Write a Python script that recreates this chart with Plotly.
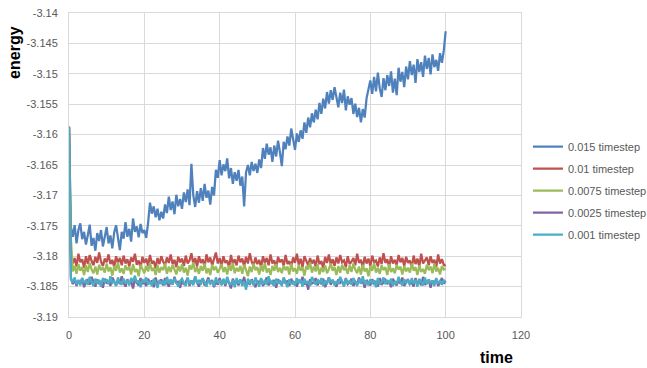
import plotly.graph_objects as go

# time grid: samples every 0.5 time units from 0 to 100
time = [i * 0.5 for i in range(201)]

series_names = ["0.015 timestep", "0.01 timestep", "0.0075 timestep", "0.0025 timestep", "0.001 timestep"]
series_colors = ["#4F81BD", "#C0504D", "#9BBB59", "#8064A2", "#4BACC6"]

energy_0015 = [
    -3.1587, -3.1752, -3.1768, -3.1749, -3.1779, -3.1757, -3.1746, -3.1772, -3.1760, -3.1781,
    -3.1765, -3.1748, -3.1783, -3.1770, -3.1791, -3.1762, -3.1775, -3.1757, -3.1784, -3.1769,
    -3.1752, -3.1779, -3.1766, -3.1787, -3.1761, -3.1749, -3.1774, -3.1790, -3.1760, -3.1771,
    -3.1744, -3.1768, -3.1755, -3.1776, -3.1738, -3.1760, -3.1751, -3.1769, -3.1747, -3.1762,
    -3.1757, -3.1770, -3.1745, -3.1712, -3.1730, -3.1718, -3.1736, -3.1722, -3.1741, -3.1727,
    -3.1738, -3.1715, -3.1729, -3.1702, -3.1724, -3.1710, -3.1731, -3.1699, -3.1718, -3.1706,
    -3.1722, -3.1695, -3.1711, -3.1690, -3.1716, -3.1648, -3.1700, -3.1719, -3.1693, -3.1712,
    -3.1688, -3.1709, -3.1681, -3.1704, -3.1692, -3.1715, -3.1686, -3.1700, -3.1658, -3.1671,
    -3.1642, -3.1667, -3.1649, -3.1660, -3.1639, -3.1672, -3.1655, -3.1681, -3.1662, -3.1676,
    -3.1658, -3.1684, -3.1669, -3.1718, -3.1662, -3.1650, -3.1667, -3.1645, -3.1660, -3.1648,
    -3.1663, -3.1641, -3.1655, -3.1622, -3.1640, -3.1615, -3.1633, -3.1621, -3.1645, -3.1618,
    -3.1636, -3.1610, -3.1629, -3.1652, -3.1612, -3.1624, -3.1603, -3.1618, -3.1590, -3.1610,
    -3.1625, -3.1598, -3.1612, -3.1593, -3.1607, -3.1580, -3.1597, -3.1572, -3.1588, -3.1565,
    -3.1580, -3.1559, -3.1575, -3.1548, -3.1566, -3.1541, -3.1557, -3.1530, -3.1549, -3.1527,
    -3.1543, -3.1522, -3.1538, -3.1555, -3.1531, -3.1548, -3.1526, -3.1560, -3.1537, -3.1551,
    -3.1540, -3.1566, -3.1549, -3.1571, -3.1556, -3.1580, -3.1558, -3.1572, -3.1540, -3.1522,
    -3.1511, -3.1533, -3.1505, -3.1529, -3.1498, -3.1524, -3.1538, -3.1507, -3.1527, -3.1502,
    -3.1520, -3.1496, -3.1531, -3.1508, -3.1535, -3.1490, -3.1513, -3.1497, -3.1522, -3.1488,
    -3.1509, -3.1479, -3.1502, -3.1485, -3.1515, -3.1476, -3.1497, -3.1481, -3.1505, -3.1470,
    -3.1492, -3.1474, -3.1501, -3.1468, -3.1489, -3.1477, -3.1495, -3.1466, -3.1482, -3.1462,
    -3.1430,
]

energy_001 = [
    -3.1587, -3.1798, -3.1812, -3.1803, -3.1817, -3.1796, -3.1810, -3.1805, -3.1819, -3.1800,
    -3.1813, -3.1798, -3.1808, -3.1815, -3.1801, -3.1811, -3.1794, -3.1809, -3.1816, -3.1804,
    -3.1810, -3.1797, -3.1813, -3.1806, -3.1818, -3.1800, -3.1811, -3.1803, -3.1815, -3.1799,
    -3.1812, -3.1805, -3.1817, -3.1802, -3.1809, -3.1796, -3.1814, -3.1807, -3.1819, -3.1801,
    -3.1811, -3.1804, -3.1816, -3.1798, -3.1812, -3.1808, -3.1820, -3.1803, -3.1813, -3.1800,
    -3.1809, -3.1815, -3.1802, -3.1811, -3.1797, -3.1813, -3.1806, -3.1818, -3.1801, -3.1810,
    -3.1804, -3.1816, -3.1799, -3.1812, -3.1807, -3.1795, -3.1813, -3.1803, -3.1817, -3.1800,
    -3.1811, -3.1805, -3.1818, -3.1797, -3.1810, -3.1802, -3.1815, -3.1806, -3.1794, -3.1812,
    -3.1803, -3.1816, -3.1800, -3.1811, -3.1807, -3.1819, -3.1798, -3.1813, -3.1805, -3.1815,
    -3.1799, -3.1810, -3.1804, -3.1817, -3.1801, -3.1812, -3.1795, -3.1809, -3.1816, -3.1802,
    -3.1813, -3.1806, -3.1818, -3.1800, -3.1811, -3.1803, -3.1815, -3.1797, -3.1812, -3.1807,
    -3.1819, -3.1801, -3.1810, -3.1805, -3.1816, -3.1798, -3.1813, -3.1808, -3.1817, -3.1802,
    -3.1811, -3.1796, -3.1814, -3.1804, -3.1818, -3.1800, -3.1809, -3.1815, -3.1803, -3.1812,
    -3.1806, -3.1817, -3.1799, -3.1813, -3.1808, -3.1820, -3.1801, -3.1811, -3.1797, -3.1814,
    -3.1805, -3.1816, -3.1802, -3.1812, -3.1798, -3.1810, -3.1807, -3.1818, -3.1800, -3.1813,
    -3.1809, -3.1803, -3.1815, -3.1796, -3.1811, -3.1806, -3.1819, -3.1801, -3.1812, -3.1804,
    -3.1816, -3.1799, -3.1810, -3.1807, -3.1817, -3.1802, -3.1813, -3.1795, -3.1811, -3.1805,
    -3.1818, -3.1800, -3.1812, -3.1806, -3.1815, -3.1798, -3.1810, -3.1803, -3.1816, -3.1801,
    -3.1811, -3.1807, -3.1819, -3.1799, -3.1813, -3.1804, -3.1817, -3.1796, -3.1812, -3.1808,
    -3.1802, -3.1815, -3.1800, -3.1811, -3.1806, -3.1818, -3.1797, -3.1812, -3.1805, -3.1814,
    -3.1816,
]

energy_00075 = [
    -3.1587, -3.1770, -3.1825, -3.1816, -3.1829, -3.1813, -3.1824, -3.1818, -3.1831, -3.1815,
    -3.1826, -3.1811, -3.1822, -3.1828, -3.1817, -3.1830, -3.1814, -3.1823, -3.1819, -3.1827,
    -3.1812, -3.1825, -3.1818, -3.1832, -3.1816, -3.1824, -3.1810, -3.1827, -3.1820, -3.1829,
    -3.1815, -3.1823, -3.1817, -3.1830, -3.1813, -3.1826, -3.1821, -3.1833, -3.1814, -3.1822,
    -3.1828, -3.1816, -3.1825, -3.1811, -3.1824, -3.1819, -3.1831, -3.1815, -3.1827, -3.1818,
    -3.1823, -3.1812, -3.1829, -3.1817, -3.1826, -3.1814, -3.1821, -3.1830, -3.1816, -3.1825,
    -3.1813, -3.1827, -3.1819, -3.1832, -3.1815, -3.1822, -3.1810, -3.1826, -3.1818, -3.1829,
    -3.1816, -3.1824, -3.1812, -3.1828, -3.1820, -3.1831, -3.1814, -3.1823, -3.1817, -3.1827,
    -3.1821, -3.1813, -3.1826, -3.1818, -3.1830, -3.1815, -3.1824, -3.1811, -3.1828, -3.1819,
    -3.1825, -3.1816, -3.1829, -3.1814, -3.1822, -3.1833, -3.1817, -3.1826, -3.1812, -3.1823,
    -3.1818, -3.1830, -3.1815, -3.1825, -3.1811, -3.1827, -3.1820, -3.1831, -3.1816, -3.1824,
    -3.1813, -3.1826, -3.1819, -3.1828, -3.1815, -3.1823, -3.1817, -3.1830, -3.1812, -3.1825,
    -3.1820, -3.1829, -3.1814, -3.1824, -3.1818, -3.1832, -3.1816, -3.1822, -3.1810, -3.1827,
    -3.1817, -3.1825, -3.1813, -3.1830, -3.1819, -3.1826, -3.1815, -3.1828, -3.1821, -3.1812,
    -3.1824, -3.1818, -3.1831, -3.1816, -3.1827, -3.1814, -3.1823, -3.1819, -3.1829, -3.1815,
    -3.1826, -3.1812, -3.1822, -3.1828, -3.1817, -3.1830, -3.1814, -3.1825, -3.1820, -3.1833,
    -3.1816, -3.1824, -3.1811, -3.1827, -3.1819, -3.1829, -3.1815, -3.1823, -3.1818, -3.1831,
    -3.1813, -3.1826, -3.1820, -3.1828, -3.1814, -3.1822, -3.1817, -3.1830, -3.1816, -3.1825,
    -3.1819, -3.1827, -3.1812, -3.1824, -3.1818, -3.1831, -3.1815, -3.1826, -3.1821, -3.1829,
    -3.1814, -3.1823, -3.1817, -3.1828, -3.1812, -3.1825, -3.1819, -3.1830, -3.1816, -3.1822,
    -3.1820,
]

energy_00025 = [
    -3.1587, -3.1835, -3.1846, -3.1838, -3.1849, -3.1840, -3.1845, -3.1836, -3.1851, -3.1842,
    -3.1839, -3.1847, -3.1834, -3.1844, -3.1850, -3.1838, -3.1846, -3.1841, -3.1852, -3.1837,
    -3.1845, -3.1840, -3.1849, -3.1835, -3.1843, -3.1848, -3.1839, -3.1846, -3.1833, -3.1844,
    -3.1850, -3.1838, -3.1845, -3.1841, -3.1853, -3.1837, -3.1844, -3.1848, -3.1836, -3.1846,
    -3.1842, -3.1849, -3.1837, -3.1845, -3.1840, -3.1851, -3.1835, -3.1847, -3.1843, -3.1838,
    -3.1848, -3.1836, -3.1844, -3.1850, -3.1839, -3.1846, -3.1834, -3.1845, -3.1841, -3.1852,
    -3.1838, -3.1847, -3.1842, -3.1836, -3.1849, -3.1840, -3.1846, -3.1833, -3.1844, -3.1850,
    -3.1841, -3.1837, -3.1848, -3.1843, -3.1835, -3.1846, -3.1839, -3.1851, -3.1842, -3.1847,
    -3.1836, -3.1845, -3.1840, -3.1849, -3.1838, -3.1844, -3.1853, -3.1837, -3.1846, -3.1841,
    -3.1848, -3.1839, -3.1845, -3.1834, -3.1850, -3.1842, -3.1847, -3.1838, -3.1844, -3.1851,
    -3.1840, -3.1846, -3.1837, -3.1849, -3.1843, -3.1835, -3.1848, -3.1841, -3.1845, -3.1839,
    -3.1852, -3.1838, -3.1844, -3.1847, -3.1836, -3.1845, -3.1840, -3.1849, -3.1837, -3.1846,
    -3.1842, -3.1850, -3.1839, -3.1844, -3.1834, -3.1847, -3.1841, -3.1855, -3.1838, -3.1845,
    -3.1843, -3.1836, -3.1848, -3.1840, -3.1846, -3.1837, -3.1851, -3.1842, -3.1835, -3.1847,
    -3.1839, -3.1845, -3.1850, -3.1838, -3.1844, -3.1841, -3.1848, -3.1836, -3.1846, -3.1843,
    -3.1837, -3.1849, -3.1842, -3.1846, -3.1835, -3.1845, -3.1840, -3.1852, -3.1839, -3.1844,
    -3.1848, -3.1838, -3.1845, -3.1841, -3.1850, -3.1836, -3.1847, -3.1843, -3.1839, -3.1846,
    -3.1841, -3.1851, -3.1837, -3.1844, -3.1848, -3.1840, -3.1845, -3.1835, -3.1849, -3.1842,
    -3.1838, -3.1846, -3.1843, -3.1850, -3.1836, -3.1845, -3.1841, -3.1848, -3.1834, -3.1847,
    -3.1844, -3.1839, -3.1852, -3.1840, -3.1846, -3.1837, -3.1849, -3.1842, -3.1836, -3.1845,
    -3.1841,
]

energy_0001 = [
    -3.1587, -3.1838, -3.1843, -3.1835, -3.1846, -3.1839, -3.1848, -3.1836, -3.1844, -3.1840,
    -3.1847, -3.1834, -3.1842, -3.1849, -3.1837, -3.1845, -3.1839, -3.1850, -3.1836, -3.1843,
    -3.1838, -3.1846, -3.1833, -3.1844, -3.1841, -3.1849, -3.1835, -3.1843, -3.1847, -3.1837,
    -3.1845, -3.1839, -3.1848, -3.1836, -3.1842, -3.1832, -3.1844, -3.1840, -3.1851, -3.1838,
    -3.1843, -3.1835, -3.1847, -3.1841, -3.1849, -3.1837, -3.1844, -3.1852, -3.1839, -3.1846,
    -3.1840, -3.1848, -3.1834, -3.1845, -3.1838, -3.1847, -3.1836, -3.1843, -3.1850, -3.1841,
    -3.1837, -3.1844, -3.1849, -3.1835, -3.1846, -3.1840, -3.1848, -3.1833, -3.1845, -3.1839,
    -3.1847, -3.1836, -3.1843, -3.1850, -3.1838, -3.1845, -3.1841, -3.1849, -3.1835, -3.1844,
    -3.1840, -3.1848, -3.1837, -3.1846, -3.1834, -3.1843, -3.1847, -3.1839, -3.1851, -3.1836,
    -3.1845, -3.1838, -3.1849, -3.1841, -3.1855, -3.1837, -3.1844, -3.1840, -3.1848, -3.1835,
    -3.1843, -3.1850, -3.1836, -3.1846, -3.1839, -3.1847, -3.1833, -3.1844, -3.1841, -3.1849,
    -3.1837, -3.1845, -3.1840, -3.1848, -3.1835, -3.1843, -3.1851, -3.1838, -3.1846, -3.1842,
    -3.1848, -3.1836, -3.1844, -3.1839, -3.1850, -3.1837, -3.1845, -3.1841, -3.1849, -3.1834,
    -3.1842, -3.1847, -3.1838, -3.1845, -3.1836, -3.1849, -3.1840, -3.1846, -3.1835, -3.1843,
    -3.1839, -3.1848, -3.1841, -3.1846, -3.1834, -3.1844, -3.1850, -3.1837, -3.1845, -3.1840,
    -3.1847, -3.1836, -3.1843, -3.1849, -3.1838, -3.1845, -3.1833, -3.1846, -3.1841, -3.1848,
    -3.1838, -3.1844, -3.1840, -3.1851, -3.1836, -3.1847, -3.1842, -3.1835, -3.1846, -3.1839,
    -3.1845, -3.1837, -3.1849, -3.1841, -3.1846, -3.1834, -3.1843, -3.1848, -3.1838, -3.1844,
    -3.1840, -3.1847, -3.1836, -3.1845, -3.1839, -3.1850, -3.1837, -3.1843, -3.1848, -3.1835,
    -3.1846, -3.1838, -3.1844, -3.1840, -3.1849, -3.1836, -3.1845, -3.1841, -3.1847, -3.1839,
    -3.1843,
]

x_tickvals = [0, 20, 40, 60, 80, 100, 120]
x_ticktext = ["0", "20", "40", "60", "80", "100", "120"]
y_tickvals = [-3.19, -3.185, -3.18, -3.175, -3.17, -3.165, -3.16, -3.155, -3.15, -3.145, -3.14]
y_ticktext = ["-3.19", "-3.185", "-3.18", "-3.175", "-3.17", "-3.165", "-3.16", "-3.155", "-3.15", "-3.145", "-3.14"]

all_series = [energy_0015, energy_001, energy_00075, energy_00025, energy_0001]

fig = go.Figure()
for i, (name, color, vals) in enumerate(zip(series_names, series_colors, all_series)):
    fig.add_trace(go.Scatter(
        x=time, y=vals, mode="lines", name=name,
        line=dict(color=color, width=2.25),
        legendgroup=f"g{i}",
    ))

grid = "#D9D9D9"
fig.update_layout(
    width=647, height=368,
    margin=dict(l=69, r=126, t=13, b=51, autoexpand=False),
    paper_bgcolor="white", plot_bgcolor="white",
    font=dict(family="Liberation Sans, Arial, sans-serif", size=11, color="#595959"),
    showlegend=True,
    legend=dict(
        xref="container", yref="container",
        x=0.816, y=0.482, xanchor="left", yanchor="middle",
        font=dict(size=11, color="#595959"),
        tracegroupgap=3, bgcolor="rgba(0,0,0,0)",
        itemwidth=30,
    ),
    xaxis=dict(
        range=[0, 120], tickvals=x_tickvals, ticktext=x_ticktext,
        showgrid=True, gridcolor=grid, gridwidth=1,
        showline=True, linecolor=grid, linewidth=1, mirror=True,
        zeroline=False, ticks="", ticklabelstandoff=8, automargin=False,
    ),
    yaxis=dict(
        range=[-3.19, -3.14], tickvals=y_tickvals, ticktext=y_ticktext,
        showgrid=True, gridcolor=grid, gridwidth=1,
        showline=True, linecolor=grid, linewidth=1, mirror=True,
        zeroline=False, ticks="", ticklabelstandoff=8, automargin=False,
    ),
    annotations=[
        dict(text="<b>energy</b>", textangle=-90, xref="paper", yref="paper",
             x=-0.1195, y=0.872, xanchor="center", yanchor="middle", showarrow=False,
             font=dict(size=16, color="black", family="Liberation Sans, Arial, sans-serif")),
        dict(text="<b>time</b>", xref="paper", yref="paper",
             x=0.9447, y=-0.1316, xanchor="center", yanchor="middle", showarrow=False,
             font=dict(size=16, color="black", family="Liberation Sans, Arial, sans-serif")),
    ],
)

fig.write_html("out.html", config={"displayModeBar": False},
               post_script="document.body.style.margin='0';")
